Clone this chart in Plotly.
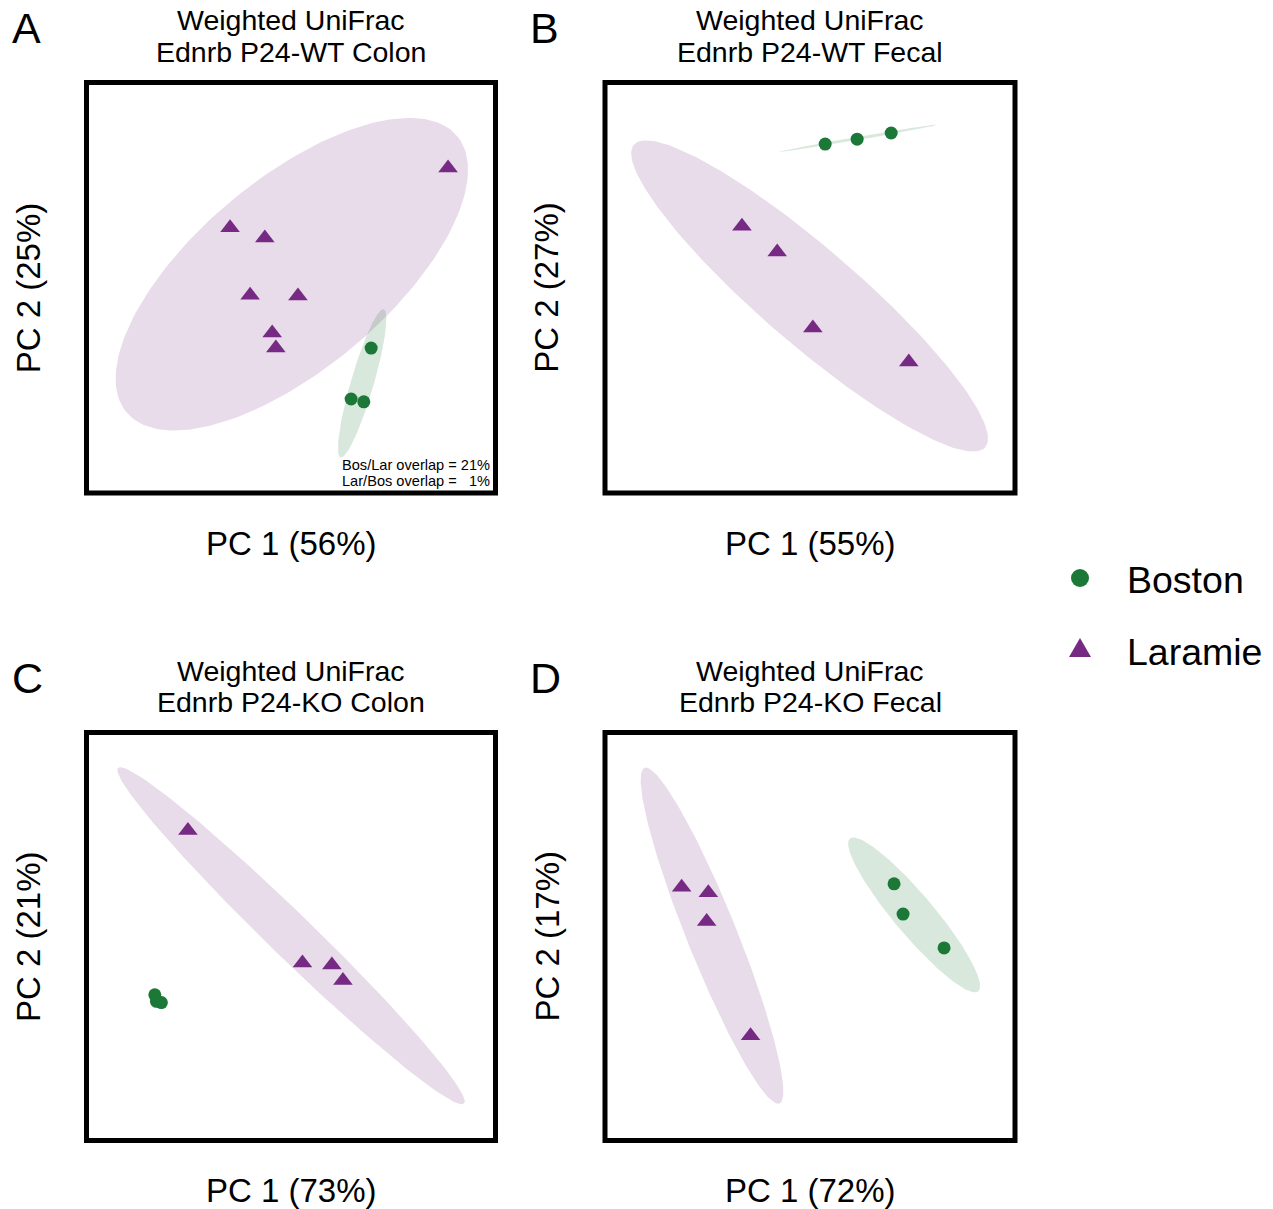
import numpy as np
import plotly.graph_objects as go

W, H = 1273, 1209
PURPLE = "#762a83"
GREEN = "#1b7837"
FONT = "Liberation Sans, Arial, Helvetica, sans-serif"

# ---------------- data (PCoA scores, arbitrary units 0-100) ----------------
panels = ["A", "B", "C", "D"]
titles_1 = ["Weighted UniFrac"] * 4
titles_2 = ["Ednrb P24-WT Colon", "Ednrb P24-WT Fecal", "Ednrb P24-KO Colon", "Ednrb P24-KO Fecal"]
pc1_labels = ["PC 1 (56%)", "PC 1 (55%)", "PC 1 (73%)", "PC 1 (72%)"]
pc2_labels = ["PC 2 (25%)", "PC 2 (27%)", "PC 2 (21%)", "PC 2 (17%)"]

boston_x = [[69.6, 64.7, 67.8], [53.7, 61.5, 69.8], [16.7, 17.1, 18.3], [70.5, 72.7, 82.7]]
boston_y = [[35.3, 22.9, 22.2], [85.0, 86.2, 87.7], [35.7, 34.1, 33.8], [62.9, 55.5, 47.2]]
laramie_x = [[88.4, 35.1, 43.6, 40.0, 51.7, 45.4, 46.3], [33.4, 42.0, 50.7, 74.1],
             [24.8, 52.8, 60.0, 62.7], [18.7, 25.2, 24.8, 35.5]]
laramie_y = [[79.2, 64.6, 62.1, 48.2, 48.0, 39.0, 35.3], [65.0, 58.7, 40.2, 31.9],
             [76.0, 43.5, 43.0, 39.2], [62.1, 60.7, 53.7, 25.7]]

# ellipse parameters: centre x, centre y, semi-major, semi-minor, angle (deg)
lar_ell = [(50.2, 53.3, 52.6, 23.2, 39.75), (49.9, 48.0, 56.5, 11.7, -40.7),
           (50.0, 50.2, 59.0, 5.4, -44.2), (26.1, 50.2, 44.3, 6.1, -68.2)]
bos_ell = [(67.4, 26.7, 18.8, 2.8, 73.7), (61.7, 86.4, 19.5, 0.4, 9.7),
           None, (75.4, 55.3, 24.4, 4.9, -50.1)]

overlap_text = ["Bos/Lar overlap = 21%", "Lar/Bos overlap =\u00a0\u00a0\u00a01%"]

# ---------------- layout geometry (pixels) ----------------
box_x = [(86.5, 495.5), (605, 1015), (86.5, 495.5), (605, 1015)]
box_y = [(82.5, 493), (82.5, 493), (732.5, 1140.5), (732.5, 1140.5)]


def ellipse(cx, cy, a, b, ang, n=200):
    t = np.linspace(0, 2 * np.pi, n)
    th = np.deg2rad(ang)
    x = cx + a * np.cos(t) * np.cos(th) - b * np.sin(t) * np.sin(th)
    y = cy + a * np.cos(t) * np.sin(th) + b * np.sin(t) * np.cos(th)
    return x, y


fig = go.Figure()
annotations = []
shapes = []

for i in range(4):
    ax = "" if i == 0 else str(i + 1)
    xref, yref = "x" + ax, "y" + ax
    # ellipses
    for ell, col in ((lar_ell[i], "rgba(118,42,131,0.17)"), (bos_ell[i], "rgba(27,120,55,0.17)")):
        if ell is None:
            continue
        ex, ey = ellipse(*ell)
        fig.add_trace(go.Scatter(x=ex, y=ey, mode="lines", fill="toself", fillcolor=col,
                                 line=dict(width=0), hoverinfo="skip", showlegend=False,
                                 xaxis=xref, yaxis=yref))
    fig.add_trace(go.Scatter(x=boston_x[i], y=boston_y[i], mode="markers", name="Boston",
                             marker=dict(symbol="circle", size=13, color=GREEN),
                             showlegend=False, xaxis=xref, yaxis=yref))
    fig.add_trace(go.Scatter(x=laramie_x[i], y=laramie_y[i], mode="markers", name="Laramie",
                             marker=dict(symbol="triangle-up", size=17, color=PURPLE),
                             showlegend=False, xaxis=xref, yaxis=yref))

    x0, x1 = box_x[i]
    y0, y1 = box_y[i]
    axcfg = dict(range=[0, 100], showgrid=False, zeroline=False, showticklabels=False,
                 ticks="", showline=False, fixedrange=True)
    fig.update_layout(**{
        "xaxis" + ax: dict(axcfg, domain=[x0 / W, x1 / W], anchor=yref),
        "yaxis" + ax: dict(axcfg, domain=[1 - y1 / H, 1 - y0 / H], anchor=xref),
    })
    shapes.append(dict(type="rect", xref=xref + " domain", yref=yref + " domain",
                       x0=0, x1=1, y0=0, y1=1, line=dict(color="black", width=5)))

    cxp = (x0 + x1) / 2
    # panel letter
    annotations.append(dict(text=panels[i], x=(x0 - 77) / W, y=1 - (y0 - 55) / H,
                            xanchor="left", yanchor="middle", font=dict(size=43)))
    # titles
    annotations.append(dict(text=titles_1[i], x=cxp / W, y=1 - (y0 - 62) / H,
                            xanchor="center", yanchor="middle", font=dict(size=28.5)))
    annotations.append(dict(text=titles_2[i], x=cxp / W, y=1 - (y0 - 31) / H,
                            xanchor="center", yanchor="middle", font=dict(size=28.5)))
    # axis labels
    annotations.append(dict(text=pc1_labels[i], x=cxp / W, y=1 - (y1 + 50) / H,
                            xanchor="center", yanchor="middle", font=dict(size=33)))
    annotations.append(dict(text=pc2_labels[i], x=(x0 - 58) / W, y=1 - ((y0 + y1) / 2 + 0) / H,
                            xanchor="center", yanchor="middle", textangle=-90, font=dict(size=33)))

# overlap note in panel A
annotations.append(dict(text=overlap_text[0], x=492 / W, y=1 - 465 / H, xanchor="right",
                        yanchor="middle", font=dict(size=14.6)))
annotations.append(dict(text=overlap_text[1], x=492 / W, y=1 - 481 / H, xanchor="right",
                        yanchor="middle", font=dict(size=14.6)))

# legend (drawn manually)
shapes.append(dict(type="circle", xref="paper", yref="paper", xsizemode="pixel", ysizemode="pixel",
                   xanchor=1080 / W, yanchor=1 - 578 / H, x0=-9, x1=9, y0=-9, y1=9,
                   fillcolor=GREEN, line=dict(width=0)))
shapes.append(dict(type="path", xref="paper", yref="paper", xsizemode="pixel", ysizemode="pixel",
                   xanchor=1080 / W, yanchor=1 - 648 / H, path="M -11 -9 L 11 -9 L 0 10 Z",
                   fillcolor=PURPLE, line=dict(width=0)))
annotations.append(dict(text="Boston", x=1125 / W, y=1 - 580 / H, xanchor="left", yanchor="middle",
                        font=dict(size=37.5)))
annotations.append(dict(text="Laramie", x=1125 / W, y=1 - 652 / H, xanchor="left", yanchor="middle",
                        font=dict(size=37.5)))

for a in annotations:
    a.update(xref="paper", yref="paper", showarrow=False)
    a["font"] = dict(a["font"], family=FONT, color="black")

fig.update_layout(width=W, height=H, margin=dict(l=0, r=0, t=0, b=0),
                  paper_bgcolor="white", plot_bgcolor="white", showlegend=False,
                  annotations=annotations, shapes=shapes, font=dict(family=FONT))

fig.write_html("out.html")
